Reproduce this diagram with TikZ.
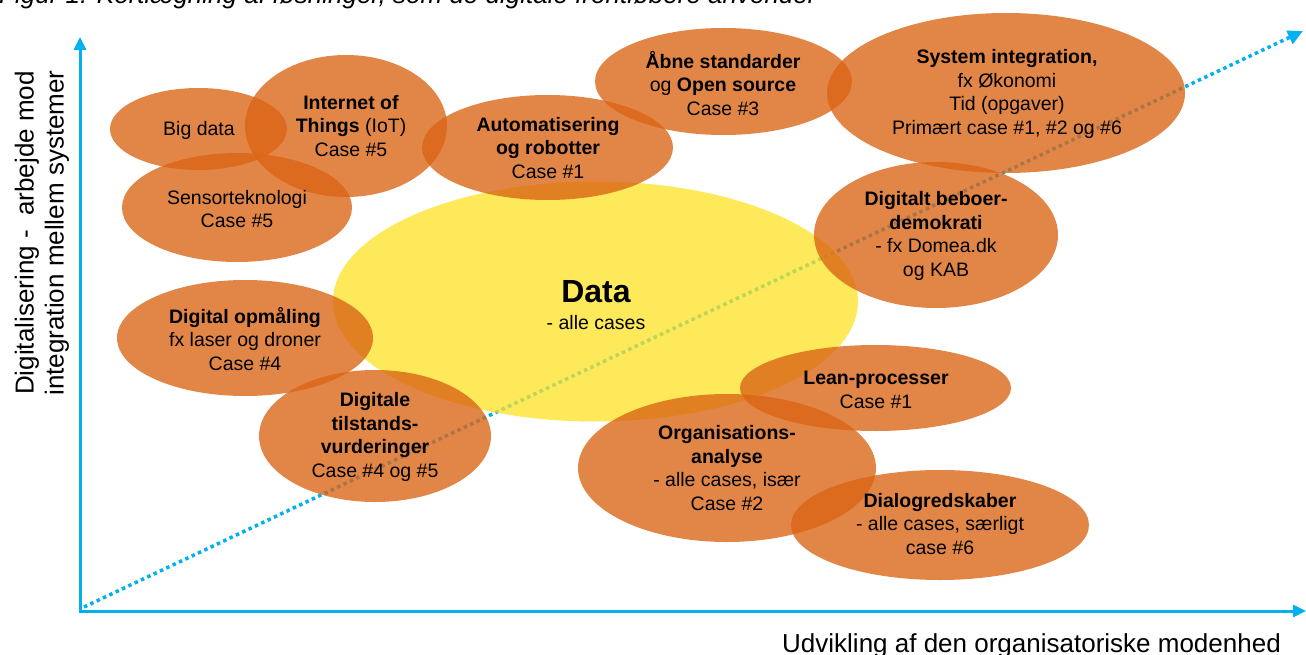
\documentclass[tikz,border=0pt]{standalone}
\usepackage{fontspec}
\setmainfont{Liberation Sans}
\usetikzlibrary{shapes.geometric,arrows.meta}

\definecolor{axisblue}{HTML}{00B0F0}
\definecolor{bloborange}{RGB}{218,100,20}
\definecolor{datayellow}{RGB}{252,226,35}

\tikzset{
  blob/.style={ellipse, fill=bloborange, fill opacity=0.78, draw=none, inner sep=0pt},
  datablob/.style={ellipse, fill=datayellow, fill opacity=0.75, draw=none, inner sep=0pt},
  lbl/.style={align=center, inner sep=0pt, font=\fontsize{19.5}{23.5}\selectfont, text=black},
  axislbl/.style={align=center, inner sep=0pt, font=\fontsize{26}{30}\selectfont, text=black},
  axisline/.style={draw=axisblue, line width=3pt, -{Triangle[length=13pt,width=12pt]}},
  trend/.style={draw=axisblue, line width=3.5pt, dash pattern=on 3.5pt off 3.5pt,
                -{Triangle[length=15pt,width=14pt]}}
}

\begin{document}
\begin{tikzpicture}[x=1pt, y=-1pt]
\useasboundingbox (0,0) rectangle (1306,655);

% caption (runs past the top edge of the page)
\begin{scope}
\clip (0,0) rectangle (1306,655);
\node[anchor=base west, inner sep=0pt, font=\fontsize{26}{30}\selectfont\itshape] (caption)
  at (-1,4) {Figur 1: Kortlægning af løsninger, som de digitale frontløbere anvender};
\end{scope}

% axes
\coordinate (origin) at (80,611);
\coordinate (ytip) at (80,37);
\coordinate (xcorner) at (78.5,611);
\coordinate (xtip) at (1306,611);
\coordinate (trendstart) at (84,607);
\coordinate (trendtip) at (1303,31);

\draw[trend] (trendstart) -- (trendtip);
\draw[axisline] (origin) -- (ytip);
\draw[axisline] (xcorner) -- (xtip);

\node[axislbl, rotate=90] (ylabel) at (42,233)
  {Digitalisering -~ arbejde mod\\integration mellem systemer};
\node[axislbl, anchor=base west] (xlabel) at (782,652)
  {Udvikling af den organisatoriske modenhed};

% central theme
\node[datablob, minimum width=525pt, minimum height=240pt] (data) at (595.5,301.5) {};

% surrounding themes
\node[blob, minimum width=177pt, minimum height=82pt]  (bigdata) at (198.5,129) {};
\node[blob, minimum width=202pt, minimum height=142pt] (iot)     at (346,126) {};
\node[blob, minimum width=230pt, minimum height=109pt] (sensor)  at (237,207.5) {};
\node[blob, minimum width=251pt, minimum height=105pt] (auto)    at (547.5,147.5) {};
\node[blob, minimum width=257pt, minimum height=107pt] (open)    at (723.5,81.5) {};
\node[blob, minimum width=358pt, minimum height=160pt] (sysint)  at (1006,93) {};
\node[blob, minimum width=244pt, minimum height=146pt] (demo)    at (936,235) {};
\node[blob, minimum width=256pt, minimum height=116pt] (opmaal)  at (245,338) {};
\node[blob, minimum width=232pt, minimum height=132pt] (tilst)   at (375,436) {};
\node[blob, minimum width=271pt, minimum height=86pt]  (lean)    at (875.5,388) {};
\node[blob, minimum width=298pt, minimum height=148pt] (org)     at (727,468) {};
\node[blob, minimum width=298pt, minimum height=110pt] (dialog)  at (940,525) {};

% texts
\node[inner sep=0pt, font=\fontsize{32}{36}\selectfont\bfseries] (data-t) at (596,292) {Data};
\node[lbl] (data-s) at (596,323) {- alle cases};

\node[lbl] (bigdata-t) at (199,130) {Big data};
\node[lbl] (iot-t) at (351,126) {\textbf{Internet of}\\\textbf{Things} (IoT)\\Case \#5};
\node[lbl] (sensor-t) at (237,209) {Sensorteknologi\\Case \#5};
\node[lbl] (auto-t) at (548,148) {\textbf{Automatisering}\\\textbf{og robotter}\\Case \#1};
\node[lbl] (open-t) at (723,83) {\textbf{Åbne standarder}\\og \textbf{Open source}\\Case \#3};
\node[lbl] (sysint-t) at (1007,94) {\textbf{System integration,}\\fx Økonomi\\Tid (opgaver)\\Primært case \#1, \#2 og \#6};
\node[lbl] (demo-t) at (936,236) {\textbf{Digitalt beboer-}\\\textbf{demokrati}\\- fx Domea.dk\\og KAB};
\node[lbl] (opmaal-t) at (245,339) {\textbf{Digital opmåling}\\fx laser og droner\\Case \#4};
\node[lbl] (tilst-t) at (375,437) {\textbf{Digitale}\\\textbf{tilstands-}\\\textbf{vurderinger}\\Case \#4 og \#5};
\node[lbl] (lean-t) at (876,390) {\textbf{Lean-processer}\\Case \#1};
\node[lbl] (org-t) at (727,468) {\textbf{Organisations-}\\\textbf{analyse}\\- alle cases, især\\Case \#2};
\node[lbl] (dialog-t) at (940,524) {\textbf{Dialogredskaber}\\- alle cases, særligt\\case \#6};

\end{tikzpicture}
\end{document}
